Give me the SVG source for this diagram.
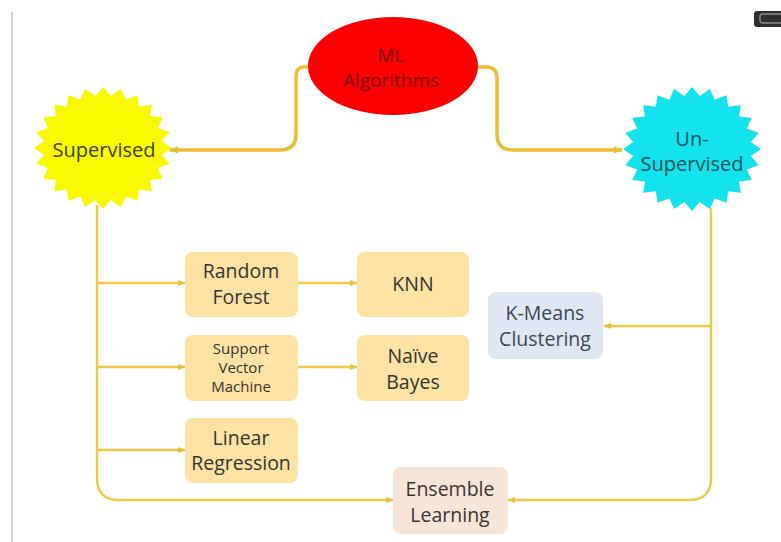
<svg xmlns="http://www.w3.org/2000/svg" xmlns:xlink="http://www.w3.org/1999/xlink" width="781" height="542" viewBox="0 0 781 542">
<style>
  text { font-family: "Open Sans", "Liberation Sans", sans-serif; text-anchor: middle; }
  .top { fill: none; stroke: #ebbd33; stroke-width: 3.5; }
  .low { fill: none; stroke: #eec948; stroke-width: 2.5; }
  .ybox { fill: #fce3a3; }
  .btxt { fill: #37352f; font-size: 19.5px; }
  .stxt { fill: #37352f; font-size: 15px; }
</style>
<defs>
  <marker id="ah" viewBox="0 0 10 10" refX="9" refY="5" markerWidth="9" markerHeight="9" markerUnits="userSpaceOnUse" orient="auto">
    <path d="M0,1 L10,5 L0,9 Z" fill="#e9bb30"/>
  </marker>
  <marker id="ahs" viewBox="0 0 10 10" refX="9" refY="5" markerWidth="8" markerHeight="8" markerUnits="userSpaceOnUse" orient="auto">
    <path d="M0,1 L10,5 L0,9 Z" fill="#e9c23c"/>
  </marker>
  <polygon id="star" points="100,0 85.3,11.2 96.6,25.9 79.5,32.9 86.6,50 68.2,52.4 70.7,70.7 52.4,68.2 50,86.6 32.9,79.5 25.9,96.6 11.2,85.3 0,100 -11.2,85.3 -25.9,96.6 -32.9,79.5 -50,86.6 -52.4,68.2 -70.7,70.7 -68.2,52.4 -86.6,50 -79.5,32.9 -96.6,25.9 -85.3,11.2 -100,0 -85.3,-11.2 -96.6,-25.9 -79.5,-32.9 -86.6,-50 -68.2,-52.4 -70.7,-70.7 -52.4,-68.2 -50,-86.6 -32.9,-79.5 -25.9,-96.6 -11.2,-85.3 0,-100 11.2,-85.3 25.9,-96.6 32.9,-79.5 50,-86.6 52.4,-68.2 70.7,-70.7 68.2,-52.4 86.6,-50 79.5,-32.9 96.6,-25.9 85.3,-11.2"/>
</defs>

<rect x="0" y="0" width="781" height="542" fill="#ffffff"/>
<line x1="12" y1="12" x2="12" y2="542" stroke="#d4d4d4" stroke-width="2"/>
<rect x="754" y="11" width="30" height="16" rx="3" fill="#2f2f2f"/>
<rect x="760" y="14" width="24" height="9" rx="2" fill="none" stroke="#bbbbbb" stroke-width="1"/>

<g id="connectors">
  <path class="top" d="M308,67 H304 Q296,67 296,77 V134 Q296,150 280,150 H170" marker-end="url(#ah)"/>
  <path class="top" d="M478,67 H486 Q497,67 497,78 V134 Q497,150 513,150 H622" marker-end="url(#ah)"/>
  <path class="low" d="M97,205 V478 Q97,500 119,500 H393" marker-end="url(#ahs)"/>
  <path class="low" d="M97,283 H185" marker-end="url(#ahs)"/>
  <path class="low" d="M97,367 H185" marker-end="url(#ahs)"/>
  <path class="low" d="M97,450 H185" marker-end="url(#ahs)"/>
  <path class="low" d="M298,283 H357" marker-end="url(#ahs)"/>
  <path class="low" d="M298,367 H357" marker-end="url(#ahs)"/>
  <path class="low" d="M711,208 V478 Q711,500 689,500 H508" marker-end="url(#ahs)"/>
  <path class="low" d="M711,326 H604" marker-end="url(#ahs)"/>
</g>

<g id="ml">
  <ellipse cx="393" cy="66" rx="85" ry="49" fill="#fb0000"/>
  <text x="391" y="62" font-size="19" fill="#7d0b0b">ML</text>
  <text x="391" y="87" font-size="19" fill="#7d0b0b">Algorithms</text>
</g>

<g id="supervised">
  <use xlink:href="#star" transform="translate(103,148) scale(0.69,0.61)" fill="#f8f900"/>
  <text x="104" y="157" font-size="20" fill="#3f3f14">Supervised</text>
</g>

<g id="unsupervised">
  <use xlink:href="#star" transform="translate(692,149) scale(0.69,0.62)" fill="#14e3ee"/>
  <text x="692" y="146" font-size="20" fill="#10525a">Un-</text>
  <text x="692" y="171" font-size="20" fill="#10525a">Supervised</text>
</g>

<g id="random-forest">
  <rect class="ybox" x="185" y="252" width="113" height="65" rx="8"/>
  <text class="btxt" x="241" y="278">Random</text>
  <text class="btxt" x="241" y="304">Forest</text>
</g>

<g id="knn">
  <rect class="ybox" x="357" y="252" width="112" height="65" rx="8"/>
  <text class="btxt" x="413" y="291">KNN</text>
</g>

<g id="svm">
  <rect class="ybox" x="185" y="335" width="113" height="66" rx="8"/>
  <text class="stxt" x="241" y="354">Support</text>
  <text class="stxt" x="241" y="373">Vector</text>
  <text class="stxt" x="241" y="392">Machine</text>
</g>

<g id="naive-bayes">
  <rect class="ybox" x="357" y="335" width="112" height="66" rx="8"/>
  <text class="btxt" x="413" y="363">Naïve</text>
  <text class="btxt" x="413" y="389">Bayes</text>
</g>

<g id="linear-regression">
  <rect class="ybox" x="185" y="418" width="113" height="65" rx="8"/>
  <text class="btxt" x="241" y="445">Linear</text>
  <text class="btxt" x="241" y="470">Regression</text>
</g>

<g id="k-means">
  <rect x="488" y="292" width="115" height="67" rx="8" fill="#dfe8f2"/>
  <text x="545" y="320" font-size="19.5" fill="#3b4757">K-Means</text>
  <text x="545" y="346" font-size="19.5" fill="#3b4757">Clustering</text>
</g>

<g id="ensemble">
  <rect x="393" y="467" width="115" height="67" rx="8" fill="#f7e5d8"/>
  <text x="450" y="496" font-size="19.5" fill="#3a3632">Ensemble</text>
  <text x="450" y="522" font-size="19.5" fill="#3a3632">Learning</text>
</g>
</svg>
